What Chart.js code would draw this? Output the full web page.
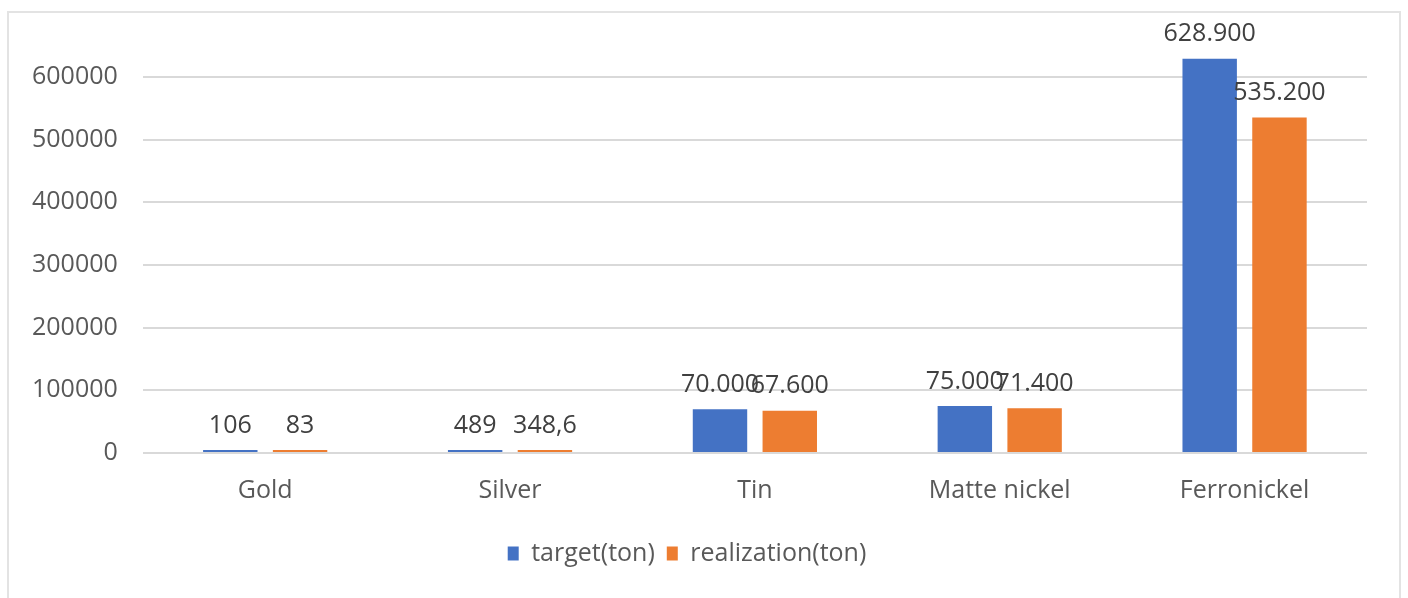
<!DOCTYPE html>
<html>
<head>
    <title>Production target vs realization</title>
    <script src="https://cdn.jsdelivr.net/npm/chart.js"></script>
    <style>
        body { margin: 0; background: #fff; }
        #frame { position: absolute; left: 7px; top: 11px; width: 1394px; height: 600px; border: 2px solid #e3e3e3; box-sizing: border-box; }
        #wrap { position: absolute; left: 0; top: 0; width: 1408px; height: 598px; }
    </style>
</head>
<body>
    <div id="frame"></div>
    <div id="wrap">
        <canvas id="prodChart"></canvas>
    </div>
    <script>
        // values (tons)
        const categories = ['Gold', 'Silver', 'Tin', 'Matte nickel', 'Ferronickel'];
        const targetTon = [106, 489, 70000, 75000, 628900];
        const realizationTon = [83, 348.6, 67600, 71400, 535200];
        const yTicks = [0, 100000, 200000, 300000, 400000, 500000, 600000];

        const textColor = '#595959';
        const fontFamily = '"Open Sans", Lato, sans-serif';
        const fontSize = 25;

        // data labels above each bar, formatted like the original (628.900 / 348,6)
        const barLabels = {
            id: 'barLabels',
            afterDatasetsDraw(chart) {
                const ctx = chart.ctx;
                ctx.save();
                ctx.font = fontSize + 'px ' + fontFamily;
                ctx.fillStyle = '#404040';
                ctx.textAlign = 'center';
                ctx.textBaseline = 'bottom';
                chart.data.datasets.forEach((ds, i) => {
                    chart.getDatasetMeta(i).data.forEach((bar, j) => {
                        const txt = ds.data[j].toLocaleString('de-DE');
                        ctx.fillText(txt, bar.x, bar.y - 12);
                    });
                });
                ctx.restore();
            }
        };

        const ctx = document.getElementById('prodChart').getContext('2d');
        const prodChart = new Chart(ctx, {
            type: 'bar',
            data: {
                labels: categories,
                datasets: [
                    {
                        label: 'target(ton)',
                        data: targetTon,
                        backgroundColor: '#4472C4',
                        minBarLength: 3,
                        categoryPercentage: 0.57,
                        barPercentage: 0.78,
                    },
                    {
                        label: 'realization(ton)',
                        data: realizationTon,
                        backgroundColor: '#ED7D31',
                        minBarLength: 3,
                        categoryPercentage: 0.57,
                        barPercentage: 0.78,
                    },
                ],
            },
            options: {
                responsive: true,
                maintainAspectRatio: false,
                animation: false,
                layout: {
                    padding: { left: 7, right: 41, top: 0, bottom: 22 },
                },
                plugins: {
                    tooltip: { enabled: false },
                    legend: {
                        position: 'bottom',
                        labels: {
                            color: textColor,
                            font: { family: fontFamily, size: fontSize },
                            boxWidth: 11,
                            boxHeight: 14,
                            padding: 12,
                        },
                    },
                },
                scales: {
                    x: {
                        grid: { display: false, drawTicks: false },
                        border: { display: false },
                        ticks: {
                            color: textColor,
                            font: { family: fontFamily, size: fontSize },
                            padding: 23,
                        },
                    },
                    y: {
                        min: 0,
                        max: 659000,
                        afterBuildTicks(scale) {
                            scale.ticks = yTicks.map(v => ({ value: v }));
                        },
                        grid: { color: '#d9d9d9', lineWidth: 2, drawTicks: false },
                        border: { display: false },
                        ticks: {
                            color: textColor,
                            font: { family: fontFamily, size: fontSize },
                            padding: 25,
                            callback: value => String(value),
                        },
                    },
                },
            },
            plugins: [barLabels],
        });
    </script>
</body>
</html>
